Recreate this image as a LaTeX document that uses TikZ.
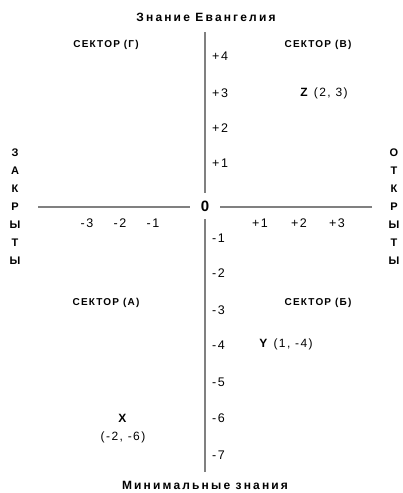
\documentclass[tikz,border=0pt]{standalone}
\usepackage{fontspec}
\setmainfont{Liberation Sans}[LetterSpace=12]
\usetikzlibrary{positioning}

\begin{document}
\begin{tikzpicture}[x=1pt, y=-1pt,
  axis/.style={draw=black!50, line width=1.5pt},
  ytick/.style={font=\fontsize{12.5}{14}\selectfont, anchor=west, inner sep=0pt},
  xtick/.style={font=\fontsize{12.5}{14}\selectfont, inner sep=0pt},
  sector/.style={font=\fontsize{10}{12}\selectfont\bfseries, inner sep=0pt},
  heading/.style={font=\fontsize{12}{14}\selectfont\bfseries\addfontfeature{LetterSpace=18},
    inner sep=0pt},
  side/.style={font=\fontsize{11}{18}\selectfont\bfseries, align=center, inner sep=0pt},
  point/.style={font=\fontsize{12}{18}\selectfont, inner sep=0pt, align=center}
]
  \useasboundingbox (0,0) rectangle (402,493);

  % headings
  \node[heading] (top) at (206,17) {Знание Евангелия};
  \node[heading] (bottom) at (205,485) {Минимальные знания};
  \node[side] (left) at (15,207) {З\\А\\К\\Р\\Ы\\Т\\Ы};
  \node[side] (right) at (394,207) {О\\Т\\К\\Р\\Ы\\Т\\Ы};

  % axes
  \node[font=\fontsize{15}{17}\selectfont\bfseries, minimum width=30pt,
        minimum height=26pt, inner sep=0pt] (zero) at (205,206) {0};
  \coordinate (ytop) at (205,32);
  \coordinate (ybot) at (205,472);
  \coordinate (xleft) at (38,207);
  \coordinate (xright) at (372,207);
  \draw[axis] (ytop) -- (ytop |- zero.north);
  \draw[axis] (ybot) -- (ybot |- zero.south);
  \draw[axis] (xleft) -- (xleft -| zero.west);
  \draw[axis] (xright) -- (xright -| zero.east);

  % scale
  \foreach \v/\y [count=\i] in {+4/56, +3/93, +2/128, +1/163, -1/238, -2/273,
                                -3/310, -4/345, -5/382, -6/418, -7/455}
    \node[ytick] (ylab\i) at (212,\y) {\v};
  \foreach \v/\x [count=\i] in {-3/87, -2/120, -1/153, +1/260, +2/299, +3/337}
    \node[xtick] (xlab\i) at (\x,223) {\v};

  % sectors
  \node[sector] (secG) at (106,45) {СЕКТОР (Г)};
  \node[sector] (secV) at (318,45) {СЕКТОР (В)};
  \node[sector] (secA) at (106,303) {СЕКТОР (А)};
  \node[sector] (secB) at (318,303) {СЕКТОР (Б)};

  % points
  \node[point] (ptZ) at (324,93) {\textbf{Z} (2, 3)};
  \node[point] (ptY) at (286,344) {\textbf{Y} (1, -4)};
  \node[point] (ptX) at (123,429) {\textbf{X}\\(-2, -6)};
\end{tikzpicture}
\end{document}
